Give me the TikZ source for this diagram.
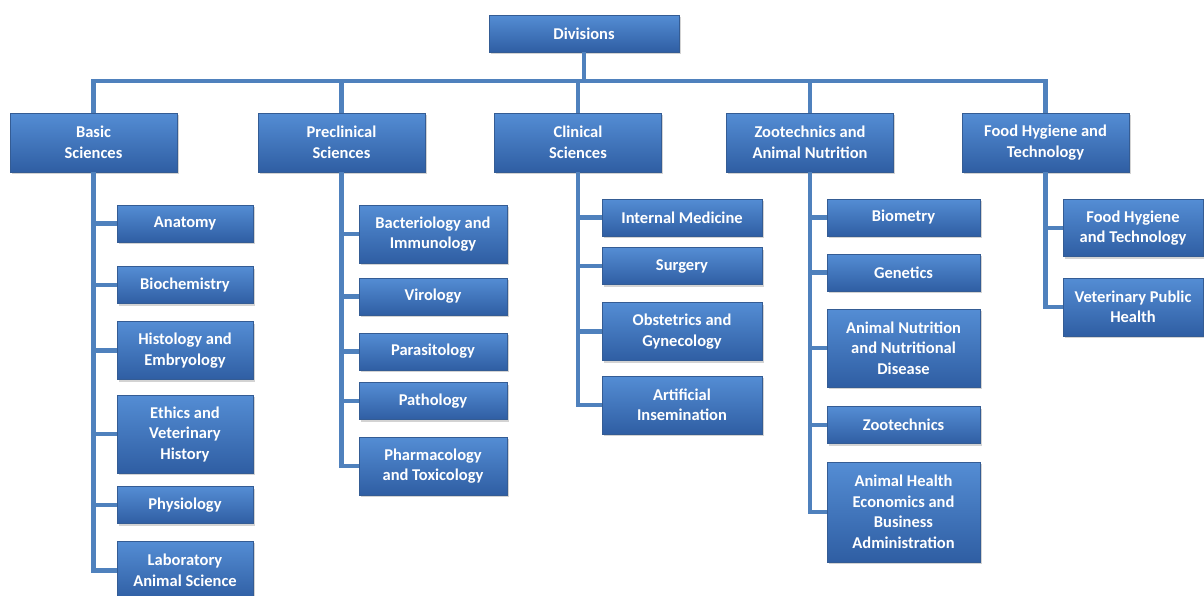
\documentclass[tikz,border=0pt]{standalone}
\usepackage{fontspec}
\setmainfont{Carlito}
\usepackage{tikz}
\usetikzlibrary{shadows}
\definecolor{linkblue}{RGB}{79,129,189}
\definecolor{boxtop}{RGB}{84,141,212}
\definecolor{boxbot}{RGB}{47,94,163}
\definecolor{boxedge}{RGB}{52,92,148}
\tikzset{
  unit/.style={draw=boxedge, line width=.6pt, top color=boxtop, bottom color=boxbot,
    text=white, font=\fontsize{16.5}{20.5}\selectfont\bfseries, align=center, inner sep=0pt,
    drop shadow={shadow xshift=1.5pt, shadow yshift=-2pt, opacity=.35}},
  link/.style={draw=linkblue, line width=4.5pt}
}

\begin{document}
\begin{tikzpicture}[x=1pt, y=-1pt]
\useasboundingbox (0,0) rectangle (1204,595);
\clip (0,0) rectangle (1204,595);

\node[unit, minimum width=190, minimum height=37] (div) at (584,33.5) {Divisions};

\begin{scope}[every node/.append style={minimum width=167, minimum height=59}]
\node[unit] (basic) at (93.5,142.5) {Basic\\Sciences};
\node[unit] (precl) at (341.5,142.5) {Preclinical\\Sciences};
\node[unit] (clin) at (578,142.5) {Clinical\\Sciences};
\node[unit] (zoo) at (810,142.5) {Zootechnics and\\Animal Nutrition};
\node[unit] (food) at (1045.5,142.5) {Food Hygiene and\\Technology};
\end{scope}

\begin{scope}[every node/.append style={minimum width=136}]
\node[unit, minimum height=37] (anat) at (185,223.5) {Anatomy};
\node[unit, minimum height=37] (bioch) at (185,285) {Biochemistry};
\node[unit, minimum height=58] (histo) at (185,350.5) {Histology and\\Embryology};
\node[unit, minimum height=78] (ethic) at (185,434) {Ethics and\\Veterinary\\History};
\node[unit, minimum height=37] (physio) at (185,505) {Physiology};
\node[unit, minimum height=59] (labanim) at (185,570.5) {Laboratory\\Animal Science};
\end{scope}

\begin{scope}[every node/.append style={minimum width=148}]
\node[unit, minimum height=58] (bact) at (433,234) {Bacteriology and\\Immunology};
\node[unit, minimum height=37] (viro) at (433,296.5) {Virology};
\node[unit, minimum height=37] (para) at (433,351.5) {Parasitology};
\node[unit, minimum height=37] (patho) at (433,401) {Pathology};
\node[unit, minimum height=58] (pharm) at (433,466) {Pharmacology\\and Toxicology};
\end{scope}

\begin{scope}[every node/.append style={minimum width=160}]
\node[unit, minimum height=37] (intmed) at (682,217.5) {Internal Medicine};
\node[unit, minimum height=37] (surg) at (682,266) {Surgery};
\node[unit, minimum height=58] (obst) at (682,331.5) {Obstetrics and\\Gynecology};
\node[unit, minimum height=58] (artins) at (682,405) {Artificial\\Insemination};
\end{scope}

\begin{scope}[every node/.append style={minimum width=153}]
\node[unit, minimum height=37] (biom) at (903.5,217.5) {Biometry};
\node[unit, minimum height=37] (genet) at (903.5,272.5) {Genetics};
\node[unit, minimum height=78] (anutr) at (903.5,348) {Animal Nutrition\\and Nutritional\\Disease};
\node[unit, minimum height=37] (zootech) at (903.5,425) {Zootechnics};
\node[unit, minimum height=100] (ahecon) at (903.5,512) {Animal Health\\Economics and\\Business\\Administration};
\end{scope}

\begin{scope}[every node/.append style={minimum width=140}]
\node[unit, minimum height=57] (foodhyg) at (1133,228) {Food Hygiene\\and Technology};
\node[unit, minimum height=58] (vph) at (1133,307) {Veterinary Public\\Health};
\end{scope}

\coordinate (bus) at (div |- 0,81);

\draw[link] (div.south) -- (bus);
\foreach \d in {basic,precl,clin,zoo,food}
  \draw[link] (bus) -| (\d.north);
\foreach \k in {anat,bioch,histo,ethic,physio,labanim}
  \draw[link] (basic.south) |- (\k.west);
\foreach \k in {bact,viro,para,patho,pharm}
  \draw[link] (precl.south) |- (\k.west);
\foreach \k in {intmed,surg,obst,artins}
  \draw[link] (clin.south) |- (\k.west);
\foreach \k in {biom,genet,anutr,zootech,ahecon}
  \draw[link] (zoo.south) |- (\k.west);
\foreach \k in {foodhyg,vph}
  \draw[link] (food.south) |- (\k.west);

\end{tikzpicture}
\end{document}
